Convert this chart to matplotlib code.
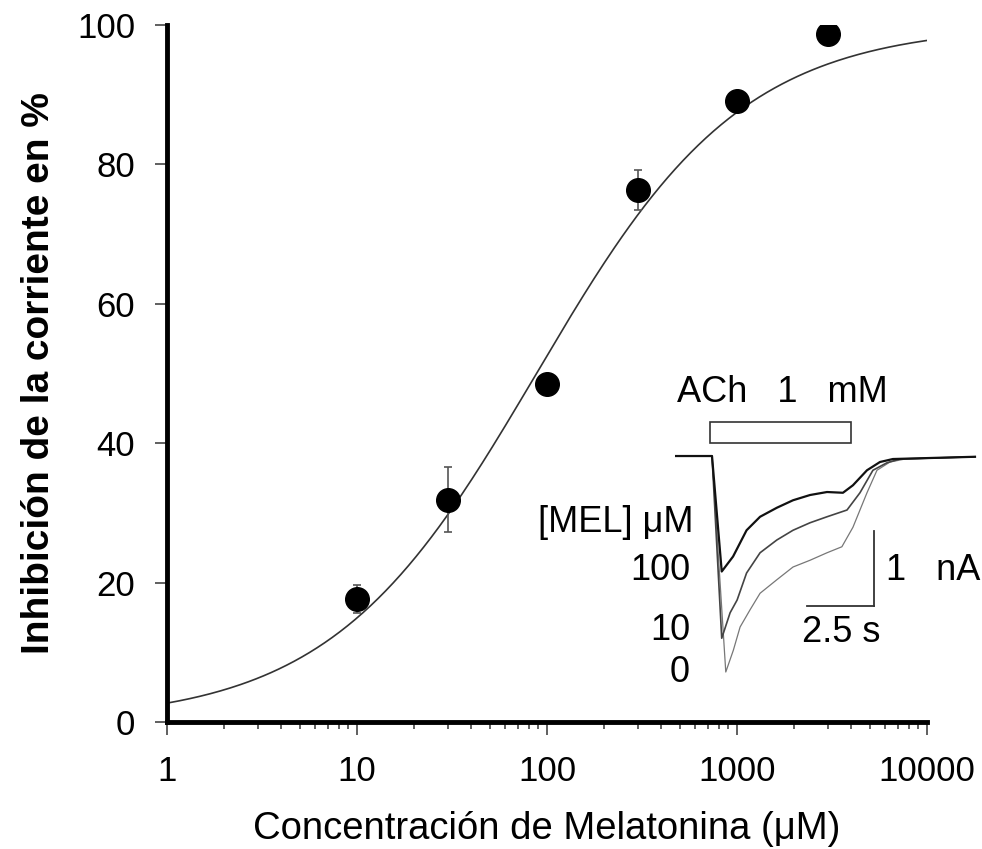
import numpy as np
import matplotlib
matplotlib.use("Agg")
import matplotlib.pyplot as plt
from matplotlib.patches import Rectangle

plt.rcParams['font.family'] = ['Liberation Sans', 'DejaVu Sans']

# dose-response data (melatonin, uM) and % inhibition
conc = [10, 30, 100, 300, 1000, 3000]
inhib = [17.6, 31.9, 48.5, 76.3, 89.1, 98.7]
err = [2.0, 4.7, 0.6, 2.9, 1.0, 0.0]

# Hill fit parameters
ic50 = 88.0
n_hill = 0.8

# inset traces: time (s), current (nA), one per [MEL]
t_100 = [-1.33, 0.0, 0.36, 0.78, 1.28, 1.78, 2.4, 3.0, 3.63, 4.26, 4.85, 5.22, 5.74, 6.22, 6.70, 9.74]
i_100 = [0.0, 0.0, -1.54, -1.34, -0.99, -0.81, -0.69, -0.59, -0.52, -0.48, -0.49, -0.39, -0.19, -0.08, -0.04, -0.01]
t_10 = [-1.33, 0.0, 0.36, 0.67, 0.93, 1.28, 1.78, 2.4, 3.0, 3.63, 4.26, 5.0, 5.48, 5.96, 6.48, 6.96, 9.74]
i_10 = [0.0, 0.0, -2.43, -2.09, -1.92, -1.56, -1.29, -1.12, -0.99, -0.89, -0.81, -0.72, -0.49, -0.19, -0.09, -0.04, -0.01]
t_0 = [-1.33, 0.0, 0.51, 0.79, 1.04, 1.41, 1.78, 2.4, 3.0, 3.63, 4.26, 4.81, 5.22, 5.74, 6.11, 6.59, 7.15, 9.74]
i_0 = [0.0, 0.0, -2.88, -2.59, -2.28, -2.05, -1.83, -1.65, -1.48, -1.39, -1.29, -1.21, -0.95, -0.49, -0.19, -0.08, -0.04, -0.01]

W, H = 982, 849
fig = plt.figure(figsize=(W / 100, H / 100), dpi=100)
ax = fig.add_axes([167 / W, 1 - 722 / H, (927 - 167) / W, (722 - 25) / H])

xs = np.logspace(0, 4, 300)
fit = 100 / (1 + (ic50 / xs) ** n_hill)
ax.plot(xs, fit, color='#333333', lw=1.2)
ax.errorbar(conc, inhib, yerr=err, fmt='o', color='black', ms=17,
            ecolor='#555555', elinewidth=1.2, capsize=3, capthick=1.2, zorder=3)

ax.set_xscale('log')
ax.set_xlim(1, 10000)
ax.set_ylim(0, 100)
ax.set_yticks([0, 20, 40, 60, 80, 100])
ax.set_xticks([1, 10, 100, 1000, 10000])
ax.set_xticklabels(['1', '10', '100', '1000', '10000'])
for s in ['top', 'right']:
    ax.spines[s].set_visible(False)
for s in ['left', 'bottom']:
    ax.spines[s].set_linewidth(3.5)
ax.tick_params(axis='both', which='major', direction='out', length=9, width=1.2,
               labelsize=25, color='#444444')
ax.tick_params(axis='x', which='minor', direction='out', length=5, width=1.2, color='#444444')
ax.tick_params(axis='x', pad=15)
ax.tick_params(axis='y', pad=14)
ax.set_xlabel('Concentración de Melatonina (μM)', fontsize=27.5, labelpad=16)
ax.set_ylabel('Inhibición de la corriente en %', fontsize=28, fontweight='bold', labelpad=14)

# inset with current traces
ins = fig.add_axes([670 / W, 1 - 690 / H, 310 / W, 290 / H])
ins.set_xlim(-1.556, 9.926)
ins.set_ylim(-3.12, 0.747)
ins.axis('off')
ins.plot(t_0, i_0, color='#777777', lw=0.9)
ins.plot(t_10, i_10, color='#444444', lw=1.2)
ins.plot(t_100, i_100, color='#111111', lw=1.6)
ins.add_patch(Rectangle((-0.07, 0.18), 5.2, 0.27, fill=False, ec='#333333', lw=1.2, clip_on=False))
ins.plot([3.5, 6.0], [-2.0, -2.0], color='#333333', lw=1.3, clip_on=False)
ins.plot([6.0, 6.0], [-2.0, -1.0], color='#333333', lw=1.3, clip_on=False)

def ftxt(x, y, s, ha='center'):
    fig.text(x / W, 1 - y / H, s, fontsize=26, ha=ha, va='center')

ftxt(782, 393, 'ACh   1   mM')
ftxt(693, 522, '[MEL] μM', ha='right')
ftxt(690, 570, '100', ha='right')
ftxt(690, 630, '10', ha='right')
ftxt(690, 673, '0', ha='right')
ftxt(886, 571, '1   nA', ha='left')
ftxt(841, 633, '2.5 s')

fig.savefig('out.png', dpi=100)
